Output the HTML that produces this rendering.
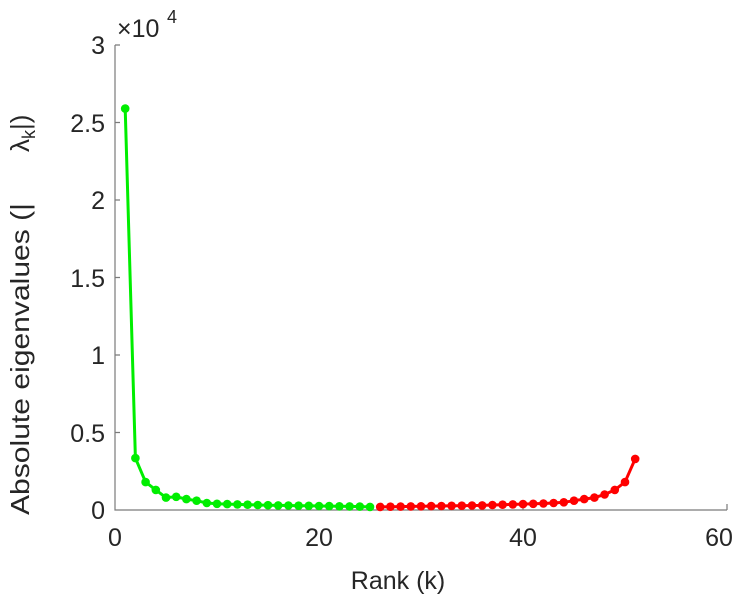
<!DOCTYPE html>
<html><head><meta charset="utf-8"><style>
body{margin:0;background:#fff;}
svg text{font-family:"Liberation Sans",sans-serif;fill:#262626;}
</style></head><body>
<svg width="746" height="600" viewBox="0 0 746 600" xmlns="http://www.w3.org/2000/svg">
<g stroke="#7a7a7a" stroke-width="1.2" fill="none">
<path d="M115,45 V510 H727"/>
<path d="M115,45 h5 M115,122.5 h5 M115,200 h5 M115,277.5 h5 M115,355 h5 M115,432.5 h5"/>
<path d="M319,510 v-5 M523,510 v-5 M727,510 v-6"/>
</g>
<g font-size="25" text-anchor="end">
<text x="105" y="519">0</text>
<text x="105" y="442">0.5</text>
<text x="105" y="364">1</text>
<text x="105" y="287">1.5</text>
<text x="105" y="209">2</text>
<text x="105" y="132">2.5</text>
<text x="105" y="54">3</text>
</g>
<g font-size="25" text-anchor="middle">
<text x="115" y="546">0</text>
<text x="319" y="546">20</text>
<text x="523" y="546">40</text>
<text x="719" y="546">60</text>
<text x="398" y="589">Rank (k)</text>
</g>
<text x="117" y="37" font-size="25">×10</text>
<text x="167" y="23" font-size="18">4</text>
<text transform="translate(29,515) rotate(-90)" font-size="26" textLength="312" lengthAdjust="spacingAndGlyphs">Absolute eigenvalues (|</text>
<text transform="translate(29,152) rotate(-90)" font-size="26">λ<tspan font-size="18" dy="6">k</tspan><tspan dy="-6">|)</tspan></text>
<g id="plot"></g>
</svg>
<script>
var g=[2.59,0.335,0.18,0.13,0.08,0.085,0.07,0.06,0.045,0.04,0.038,0.036,0.034,0.032,0.031,0.03,0.029,0.028,0.027,0.026,0.025,0.024,0.023,0.022,0.02];
var r=[0.02,0.021,0.022,0.023,0.024,0.025,0.026,0.027,0.028,0.029,0.03,0.032,0.034,0.036,0.038,0.04,0.042,0.045,0.05,0.06,0.07,0.08,0.1,0.13,0.18,0.33];
function X(k){return 115+k*10.2;}function Y(v){return 510-v*155;}
var s='';
function ser(arr,k0,c){var p=[];for(var i=0;i<arr.length;i++){p.push(X(k0+i).toFixed(1)+','+Y(arr[i]).toFixed(1));}
s+='<polyline points="'+p.join(' ')+'" fill="none" stroke="'+c+'" stroke-width="3"/>';
for(var i=0;i<arr.length;i++)s+='<circle cx="'+X(k0+i).toFixed(1)+'" cy="'+Y(arr[i]).toFixed(1)+'" r="4.3" fill="'+c+'"/>';}
ser(g,1,'#00ee00');ser(r,26,'#ff0000');
document.getElementById('plot').innerHTML=s;
</script>
</body></html>
